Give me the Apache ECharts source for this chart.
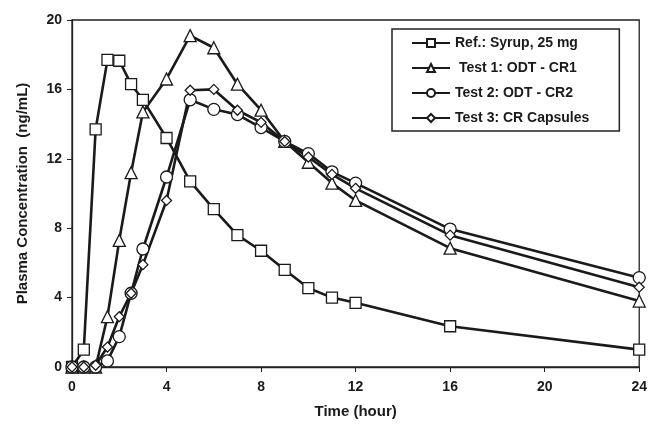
<!DOCTYPE html>
<html>
<head>
    <meta charset="utf-8">
    <title>Plasma concentration</title>
    <script type="text/javascript" src="https://cdn.jsdelivr.net/npm/echarts@6/dist/echarts.min.js"></script>
    <style>
        html, body { margin: 0; padding: 0; background: #fff; }
    </style>
</head>
<body>
<div id="main" style="width: 650px;height:428px;"></div>
<script type="text/javascript">
    // time points (hour)
    var times = [0, 0.5, 1, 1.5, 2, 2.5, 3, 4, 5, 6, 7, 8, 9, 10, 11, 12, 16, 24];

    // plasma concentration (ng/mL)
    var refSyrup = [0, 1.0, 13.7, 17.7, 17.65, 16.3, 15.4, 13.2, 10.7, 9.1, 7.6, 6.7, 5.6, 4.55, 4.0, 3.7, 2.35, 1.0];
    var test1 = [0, 0, 0, 2.9, 7.3, 11.2, 14.7, 16.6, 19.1, 18.4, 16.3, 14.8, 13.0, 11.8, 10.6, 9.6, 6.85, 3.8];
    var test2 = [0, 0, 0, 0.35, 1.75, 4.25, 6.8, 10.95, 15.4, 14.85, 14.55, 13.8, 13.0, 12.3, 11.25, 10.6, 7.95, 5.15];
    var test3 = [0, 0, 0.1, 1.15, 2.9, 4.25, 5.9, 9.6, 15.95, 16.0, 14.8, 14.1, 13.0, 12.1, 11.1, 10.3, 7.6, 4.6];

    var seriesNames = ['Ref.: Syrup, 25 mg', ' Test 1: ODT - CR1', 'Test 2: ODT - CR2', 'Test 3: CR Capsules'];
    var xTicks = [0, 4, 8, 12, 16, 20, 24];
    var yTicks = [0, 4, 8, 12, 16, 20];

    function pairs(vals) {
        return times.map(function (t, i) { return [t, vals[i]]; });
    }

    var font = 'Liberation Sans, Arial, sans-serif';

    function makeSeries(name, vals, symbol, size) {
        return {
            name: name,
            type: 'line',
            data: pairs(vals),
            symbol: symbol,
            symbolSize: size,
            showAllSymbol: true,
            clip: false,
            lineStyle: { color: '#1a1a1a', width: 2.6 },
            itemStyle: { color: '#fff', borderColor: '#1a1a1a', borderWidth: 1.3 }
        };
    }

    var myChart = echarts.init(document.getElementById('main'));

    var option = {
        animation: false,
        backgroundColor: '#fff',
        grid: {
            left: 72, right: 9, top: 20, bottom: 61,
            show: true, borderColor: '#222', borderWidth: 1.3
        },
        legend: {
            orient: 'vertical',
            left: 392, top: 29,
            padding: [7, 30, 6, 19],
            itemGap: 11,
            itemWidth: 38,
            itemHeight: 10,
            borderColor: '#222',
            borderWidth: 1.5,
            data: seriesNames,
            textStyle: { fontFamily: font, fontWeight: 'bold', fontSize: 14, color: '#1a1a1a' }
        },
        xAxis: {
            type: 'value',
            min: 0, max: 24, interval: 4,
            name: 'Time (hour)',
            nameLocation: 'middle',
            nameGap: 37,
            nameTextStyle: { fontFamily: font, fontWeight: 'bold', fontSize: 15, color: '#1a1a1a' },
            axisLine: { lineStyle: { color: '#222', width: 1.3 } },
            axisTick: { show: true, length: 5, lineStyle: { color: '#222' } },
            axisLabel: {
                margin: 13,
                fontFamily: font, fontWeight: 'bold', fontSize: 14, color: '#1a1a1a',
                formatter: function (v) { return xTicks.indexOf(v) >= 0 ? String(v) : ''; }
            },
            splitLine: { show: false }
        },
        yAxis: {
            type: 'value',
            min: 0, max: 20, interval: 4,
            name: 'Plasma Concentration  (ng/mL)',
            nameLocation: 'middle',
            nameGap: 42,
            nameTextStyle: { fontFamily: font, fontWeight: 'bold', fontSize: 15, color: '#1a1a1a' },
            axisLine: { lineStyle: { color: '#222', width: 1.3 } },
            axisTick: { show: true, length: 5, lineStyle: { color: '#222' } },
            axisLabel: {
                margin: 10,
                fontFamily: font, fontWeight: 'bold', fontSize: 14, color: '#1a1a1a',
                formatter: function (v) { return yTicks.indexOf(v) >= 0 ? String(v) : ''; }
            },
            splitLine: { show: false }
        },
        series: [
            makeSeries(seriesNames[0], refSyrup, 'rect', 11),
            makeSeries(seriesNames[1], test1, 'triangle', 12),
            makeSeries(seriesNames[2], test2, 'circle', 12),
            makeSeries(seriesNames[3], test3, 'diamond', 10)
        ]
    };

    myChart.setOption(option);
</script>
</body>
</html>
